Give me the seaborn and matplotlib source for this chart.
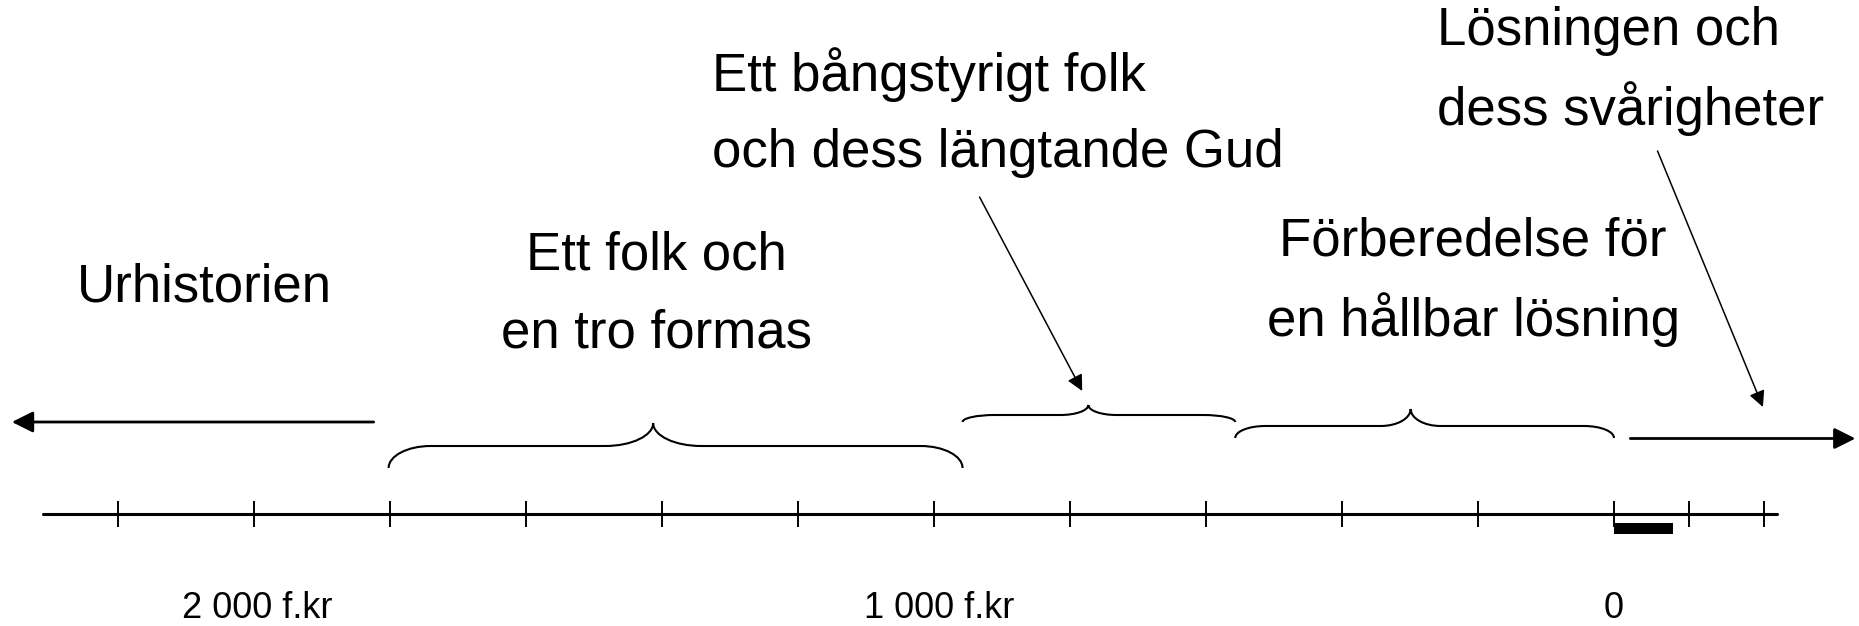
import numpy as np
import matplotlib
matplotlib.use("Agg")
import matplotlib.pyplot as plt
from matplotlib.path import Path
from matplotlib.patches import PathPatch
import seaborn as sns
import pandas as pd

# ---- data (x in years, negative = f.Kr.; y in vertical levels, 0 = top) ----
tick_years = [-2200, -2000, -1800, -1600, -1400, -1200, -1000, -800, -600, -400, -200, 0, 110, 220]
tick_labels = ["2 000 f.kr", "1 000 f.kr", "0"]
tick_label_years = [-1995, -992, 0]
axis_span = [-2310, 240]
bar_span = [0, 87]

# braces: (start, peak, end) in years
brace_start = [-1802, -958, -557]
brace_peak = [-1413, -773, -299]
brace_end = [-958, -557, 0]
brace_y_end = [468, 422, 438]
brace_y_flat = [446, 415, 426]
brace_y_peak = [423, 405, 409]

left_arrow = [-1824, -2356]
right_arrow = [24, 355]

period_texts = [
    ["Urhistorien"],
    ["Ett folk och", "en tro formas"],
    ["Ett bångstyrigt folk", "och dess längtande Gud"],
    ["Förberedelse för", "en hållbar lösning"],
    ["Lösningen och", "dess svårigheter"],
]
text_x = [-2073, -1408, -1327, -207, -260]
text_y = [288, 256, 75, 242, 31]
text_ha = ["center", "center", "left", "center", "left"]

pointer_from = [(-933, 197), (64, 151)]
pointer_to = [(-782, 391), (219, 407)]

# ---- figure ----
sns.set_theme(style="white")
plt.rcParams["font.family"] = ["Liberation Sans", "DejaVu Sans"]
plt.rcParams["text.color"] = "black"

fig = plt.figure(figsize=(18.59, 6.26), dpi=100)
ax = fig.add_axes([0, 0, 1, 1])
ax.set_xlim(-2373.5, 360.3)
ax.set_ylim(626, 0)
ax.axis("off")

AX_Y = 513.5
line_df = pd.DataFrame({"x": axis_span, "y": [AX_Y, AX_Y]})
sns.lineplot(data=line_df, x="x", y="y", color="black", lw=2.2, ax=ax, legend=False)
ax.vlines(tick_years, AX_Y - 13, AX_Y + 13, color="black", lw=1.4)
ax.fill_between(bar_span, AX_Y + 9.5, AX_Y + 20.5, color="black", lw=0)

for lab, x in zip(tick_labels, tick_label_years):
    ax.text(x, 608, lab, ha="center", va="center", fontsize=26, color="black")

# px -> years conversion for curve widths
PX = 1 / 0.68
k = 0.5523
end_w = [42 * PX, 32 * PX, 30 * PX]
mid_w = [48 * PX, 28 * PX, 30 * PX]
for i in range(3):
    x0, xm, x1 = brace_start[i], brace_peak[i], brace_end[i]
    ye, yf, yp = brace_y_end[i], brace_y_flat[i], brace_y_peak[i]
    we, wm = end_w[i], mid_w[i]
    verts = [
        (x0, ye),
        (x0, ye - k * (ye - yf)), (x0 + we - k * we, yf), (x0 + we, yf),
        (xm - wm, yf),
        (xm - wm + k * wm, yf), (xm, yp + k * (yf - yp)), (xm, yp),
        (xm, yp + k * (yf - yp)), (xm + wm - k * wm, yf), (xm + wm, yf),
        (x1 - we, yf),
        (x1 - we + k * we, yf), (x1, ye - k * (ye - yf)), (x1, ye),
    ]
    codes = [Path.MOVETO,
             Path.CURVE4, Path.CURVE4, Path.CURVE4,
             Path.LINETO,
             Path.CURVE4, Path.CURVE4, Path.CURVE4,
             Path.CURVE4, Path.CURVE4, Path.CURVE4,
             Path.LINETO,
             Path.CURVE4, Path.CURVE4, Path.CURVE4]
    ax.add_patch(PathPatch(Path(verts, codes), fill=False, lw=1.5, ec="black"))

# main arrows
ax.annotate("", xy=(left_arrow[1], 422), xytext=(left_arrow[0], 422),
            arrowprops=dict(arrowstyle="-|>", color="black", lw=2.0,
                            mutation_scale=32, shrinkA=0, shrinkB=0))
ax.annotate("", xy=(right_arrow[1], 438.5), xytext=(right_arrow[0], 438.5),
            arrowprops=dict(arrowstyle="-|>", color="black", lw=2.0,
                            mutation_scale=32, shrinkA=0, shrinkB=0))

# pointer arrows
for (xa, ya), (xb, yb) in zip(pointer_from, pointer_to):
    ax.annotate("", xy=(xb, yb), xytext=(xa, ya),
                arrowprops=dict(arrowstyle="-|>", color="black", lw=1.1,
                                mutation_scale=24, shrinkA=0, shrinkB=0))

LINE_SP = 78
for lines, x, y, ha in zip(period_texts, text_x, text_y, text_ha):
    for j, line in enumerate(lines):
        ax.text(x, y + j * LINE_SP, line, ha=ha, va="center", fontsize=38, color="black")

fig.savefig("out.png", dpi=100, facecolor="white")
